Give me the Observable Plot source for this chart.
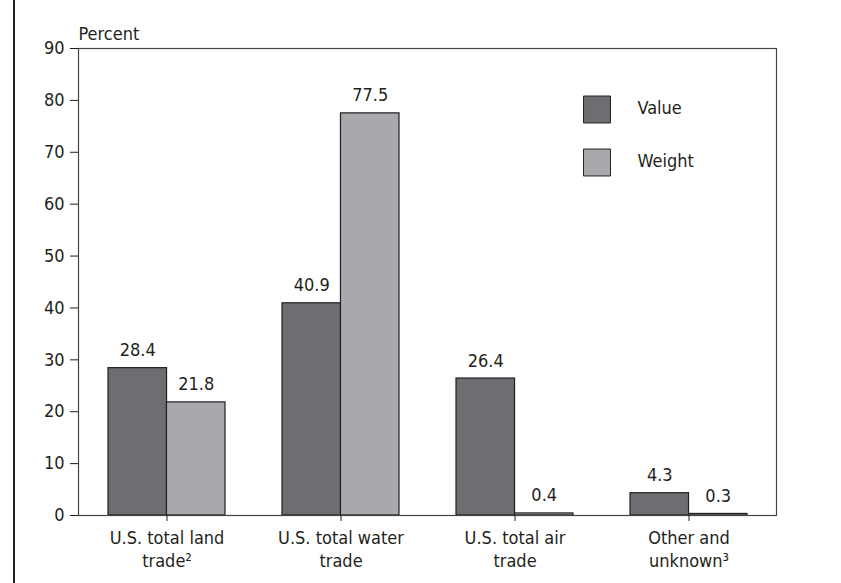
<!DOCTYPE html>
<html>
<head>
<meta charset="utf-8">
<script src="https://cdn.jsdelivr.net/npm/d3@7"></script>
<script src="https://cdn.jsdelivr.net/npm/@observablehq/plot@0.6"></script>
<style>
  html, body { margin: 0; padding: 0; background: #fff; }
  #wrap { position: relative; width: 841px; height: 583px; overflow: hidden; }
  #edge { position: absolute; left: 13px; top: 0; width: 2px; height: 583px; background: #231f20; }
  svg { font-family: "DejaVu Sans Condensed", "DejaVu Sans", sans-serif; font-stretch: condensed; }
</style>
</head>
<body>
<div id="wrap"><div id="edge"></div></div>
<script>
const categories = ["U.S. total land\ntrade²", "U.S. total water\ntrade", "U.S. total air\ntrade", "Other and\nunknown³"];
const valueShares = [28.4, 40.9, 26.4, 4.3];
const weightShares = [21.8, 77.5, 0.4, 0.3];
const seriesNames = ["Value", "Weight"];
const yTicks = [0, 10, 20, 30, 40, 50, 60, 70, 80, 90];

const valueData = categories.map((c, i) => ({category: c, share: valueShares[i]}));
const weightData = categories.map((c, i) => ({category: c, share: weightShares[i]}));

const W = 841, H = 583, ML = 78, MR = 65, MT = 48, MB = 68;
const padInner = 0.33;
const bw = (W - ML - MR) / categories.length * (1 - padInner);
const half = bw / 2;
const darkFill = "#6d6e71", lightFill = "#a7a9ac", ink = "#231f20";
const fs = 18;

const chart = Plot.plot({
  width: W, height: H,
  marginLeft: ML, marginRight: MR, marginTop: MT, marginBottom: MB,
  style: {fontSize: fs + "px", color: ink, background: "transparent"},
  x: {domain: categories, paddingInner: padInner, paddingOuter: padInner / 2, label: null},
  y: {domain: [0, 90], label: null},
  marks: [
    Plot.barY(valueData, {x: "category", y: "share", fill: darkFill, stroke: ink, strokeWidth: 1.2, insetLeft: 0, insetRight: half}),
    Plot.barY(weightData, {x: "category", y: "share", fill: lightFill, stroke: ink, strokeWidth: 1.2, insetRight: 0, insetLeft: half}),
    Plot.text(valueData, {x: "category", y: "share", text: d => d.share.toFixed(1), dx: -half / 2, dy: -12, lineAnchor: "bottom", fill: ink, fontSize: fs}),
    Plot.text(weightData, {x: "category", y: "share", text: d => d.share.toFixed(1), dx: half / 2, dy: -12, lineAnchor: "bottom", fill: ink, fontSize: fs}),
    Plot.frame({stroke: "#444", strokeWidth: 1.2}),
    Plot.axisY({ticks: yTicks, tickSize: 8, tickPadding: 6, label: null, fontSize: fs, stroke: ink, fill: ink}),
    Plot.axisX({tickSize: 6, tickPadding: 6, label: null, fontSize: fs, lineHeight: 1.27, stroke: ink, fill: ink}),
    Plot.text(["Percent"], {frameAnchor: "top-left", textAnchor: "start", lineAnchor: "bottom", dy: -9, fontSize: fs, fill: ink}),
    Plot.dot([seriesNames[0]], {frameAnchor: "top-left", dx: 518.5, dy: 61, symbol: "square", r: 15.2, fill: darkFill, stroke: ink, strokeWidth: 1}),
    Plot.dot([seriesNames[1]], {frameAnchor: "top-left", dx: 518.5, dy: 114, symbol: "square", r: 15.2, fill: lightFill, stroke: ink, strokeWidth: 1}),
    Plot.text([seriesNames[0]], {frameAnchor: "top-left", dx: 559, dy: 60, text: d => d, textAnchor: "start", lineAnchor: "middle", fontSize: fs, fill: ink}),
    Plot.text([seriesNames[1]], {frameAnchor: "top-left", dx: 559, dy: 113, text: d => d, textAnchor: "start", lineAnchor: "middle", fontSize: fs, fill: ink})
  ]
});
document.getElementById("wrap").appendChild(chart);
</script>
</body>
</html>
